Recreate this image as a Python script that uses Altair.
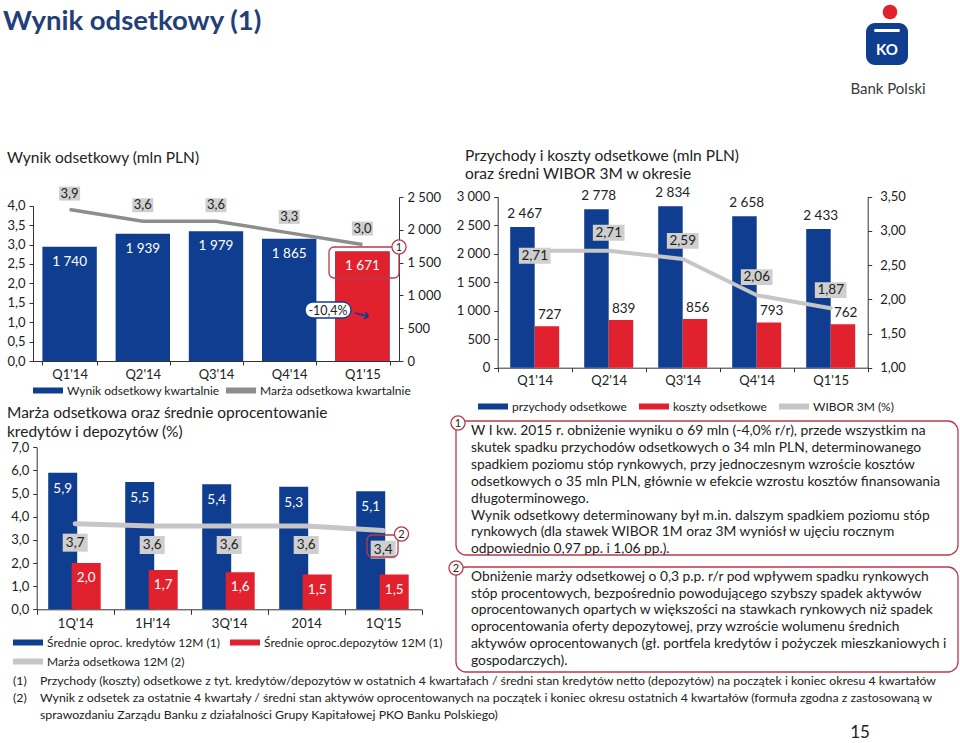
import altair as alt
import pandas as pd

# ------------------------------------------------------------------ data
kwartaly = ["Q1'14", "Q2'14", "Q3'14", "Q4'14", "Q1'15"]
wynik_kw = [1740, 1939, 1979, 1865, 1671]
marza_kw = [3.9, 3.6, 3.6, 3.3, 3.0]

okresy = ["1Q'14", "1H'14", "3Q'14", "2014", "1Q'15"]
opr_kredytow = [5.9, 5.5, 5.4, 5.3, 5.1]
opr_depozytow = [2.0, 1.7, 1.6, 1.5, 1.5]
marza_12m = [3.7, 3.6, 3.6, 3.6, 3.4]

przychody = [2467, 2778, 2834, 2658, 2433]
koszty = [727, 839, 856, 793, 762]
wibor_3m = [2.71, 2.71, 2.59, 2.06, 1.87]

S1 = ["Wynik odsetkowy kwartalnie", "Marża odsetkowa kwartalnie"]
S2 = ["Średnie oproc. kredytów 12M (1)", "Średnie oproc.depozytów 12M (1)", "Marża odsetkowa 12M (2)"]
S3 = ["przychody odsetkowe", "koszty odsetkowe", "WIBOR 3M (%)"]

TITLE = "Wynik odsetkowy (1)"
T1 = "Wynik odsetkowy (mln PLN)"
T2 = ["Marża odsetkowa oraz średnie oprocentowanie", "kredytów i depozytów (%)"]
T3 = ["Przychody i koszty odsetkowe (mln PLN)", "oraz średni WIBOR 3M w okresie"]

PAR1 = [
    "W I kw. 2015 r. obniżenie wyniku o 69 mln (-4,0% r/r), przede wszystkim na",
    "skutek spadku przychodów odsetkowych o 34 mln PLN, determinowanego",
    "spadkiem poziomu stóp rynkowych, przy jednoczesnym wzroście kosztów",
    "odsetkowych o 35 mln PLN, głównie w efekcie wzrostu kosztów finansowania",
    "długoterminowego.",
    "Wynik odsetkowy determinowany był m.in. dalszym spadkiem poziomu stóp",
    "rynkowych (dla stawek WIBOR 1M oraz 3M wyniósł w ujęciu rocznym",
    "odpowiednio 0,97 pp. i 1,06 pp.).",
]
PAR2 = [
    "Obniżenie marży odsetkowej o 0,3 p.p. r/r pod wpływem spadku rynkowych",
    "stóp procentowych, bezpośrednio powodującego szybszy spadek aktywów",
    "oprocentowanych opartych w większości na stawkach rynkowych niż spadek",
    "oprocentowania oferty depozytowej, przy wzroście wolumenu średnich",
    "aktywów oprocentowanych (gł. portfela kredytów i pożyczek mieszkaniowych i",
    "gospodarczych).",
]
FOOT_NUM = ["(1)", "(2)"]
FOOT = [
    "Przychody (koszty) odsetkowe z tyt. kredytów/depozytów w ostatnich 4 kwartałach / średni stan kredytów netto (depozytów) na początek i koniec okresu 4 kwartałów",
    "Wynik z odsetek za ostatnie 4 kwartały / średni stan aktywów oprocentowanych na początek i koniec okresu ostatnich 4 kwartałów (formuła zgodna z zastosowaną w",
    "sprawozdaniu Zarządu Banku z działalności Grupy Kapitałowej  PKO Banku Polskiego)",
]
PAGE = "15"
CHANGE = "-10,4%"

# ------------------------------------------------------------------ style / layout
W, H = 960, 743
FONT = "Lato"
NAVY = "#0f3d8f"
RED = "#e2212e"
GRAY1 = "#8d8d8d"
LGRAY = "#c6c6c6"
BOXGRAY = "#cfcfcf"
DRED = "#b73a4c"
TBLUE = "#233e78"
TXT = "#222222"

DEC1 = "replace(format(datum.value, '.1f'), '.', ',')"
DEC2 = "replace(format(datum.value, '.2f'), '.', ',')"
THS = "replace(format(datum.value, ','), ',', ' ')"

AX = dict(title=None, grid=False, domainColor="#333333", tickColor="#333333",
          labelColor=TXT, labelFont=FONT, labelFontSize=13, domainWidth=1, tickWidth=1)


def pl(v, d):
    return f"{v:.{d}f}".replace(".", ",")


def th(v):
    return f"{v:,}".replace(",", " ")


def box_path(h):
    return f"M-1,-{h}H1V{h}H-1Z"


# legend swatch: 30 x 6 px drawn around a 12 px layout symbol
SWATCH = "M-2.5,-0.5H2.5V0.5H-2.5Z"


def legend(swatch_left, center_y, cols, colpad):
    return alt.Legend(orient="none", legendX=swatch_left + 9, legendY=center_y - 6.5,
                      direction="horizontal", columns=cols,
                      symbolType=SWATCH, symbolSize=144, symbolStrokeWidth=0, symbolOpacity=1,
                      labelFont=FONT, labelFontSize=12, labelColor=TXT, title=None, padding=0,
                      columnPadding=colpad, rowPadding=7, labelOffset=13, labelLimit=0)


layers = []

# ------------------------------------------------------------------ chart 1
c1x = alt.Scale(domain=kwartaly, range=[33, 399], paddingInner=0.257, paddingOuter=0.1285)
c1yl = alt.Scale(domain=[0, 4], range=[361, 205.7], nice=False)
c1yr = alt.Scale(domain=[0, 2500], range=[361, 197], nice=False)

df1 = pd.DataFrame({"kw": kwartaly, "wynik": wynik_kw, "marza": marza_kw})
df1["wynik_t"] = [th(v) for v in wynik_kw]
df1["marza_t"] = [pl(v, 1) for v in marza_kw]
df1["seria"] = S1[0]


def x1(axis=None):
    return alt.X("kw:N", scale=c1x, axis=axis, title=None)


ax_x1 = alt.Axis(orient="bottom", offset=361 - H, labelAngle=0, tickBand="extent", tickSize=4,
                 labelPadding=3, **AX)
ax_y1l = alt.Axis(orient="left", offset=-33, values=[i * 0.5 for i in range(9)], labelExpr=DEC1,
                  tickSize=4, labelPadding=4, **AX)
ax_y1r = alt.Axis(orient="right", offset=399 - W, values=[i * 500 for i in range(6)], labelExpr=THS,
                  tickSize=4, labelPadding=4, **AX)

layers.append(alt.Chart(df1).mark_bar().encode(
    x=x1(ax_x1), y=alt.Y("wynik:Q", scale=c1yr, axis=ax_y1r),
    color=alt.Color("seria:N", scale=alt.Scale(domain=S1, range=[NAVY, GRAY1]),
                    legend=legend(33, 391, 2, 6))))
layers.append(alt.Chart(df1).transform_filter(alt.datum.kw == kwartaly[-1]).mark_bar(color=RED).encode(
    x=x1(), y=alt.Y("wynik:Q", scale=c1yr, axis=None)))
layers.append(alt.Chart(df1).mark_text(color="white", font=FONT, fontSize=13.5, dy=15).encode(
    x=x1(), y=alt.Y("wynik:Q", scale=c1yr, axis=None), text="wynik_t:N"))
layers.append(alt.Chart(df1).mark_line(color=GRAY1, strokeWidth=3.5).encode(
    x=x1(), y=alt.Y("marza:Q", scale=c1yl, axis=ax_y1l)))
layers.append(alt.Chart(df1).mark_point(shape=box_path(0.667), size=441, filled=True, color=BOXGRAY,
                                        opacity=1, yOffset=-16).encode(
    x=x1(), y=alt.Y("marza:Q", scale=c1yl, axis=None)))
layers.append(alt.Chart(df1).mark_text(color=TXT, font=FONT, fontSize=13, dy=-16).encode(
    x=x1(), y=alt.Y("marza:Q", scale=c1yl, axis=None), text="marza_t:N"))

# ------------------------------------------------------------------ chart 2
c2x = alt.Scale(domain=okresy, range=[36.7, 421.7], paddingInner=0, paddingOuter=0)
c2y = alt.Scale(domain=[0, 7], range=[609.3, 447.3], nice=False)

df2 = pd.DataFrame({"ok": okresy, "kred": opr_kredytow, "dep": opr_depozytow, "marza": marza_12m})
df2["kred_t"] = [pl(v, 1) for v in opr_kredytow]
df2["dep_t"] = [pl(v, 1) for v in opr_depozytow]
df2["marza_t"] = [pl(v, 1) for v in marza_12m]
df2["seria"] = S2[0]


def x2(axis=None):
    return alt.X("ok:N", scale=c2x, axis=axis, title=None)


def y2(f, axis=None):
    return alt.Y(f"{f}:Q", scale=c2y, axis=axis)


ax_x2 = alt.Axis(orient="bottom", offset=609.3 - H, labelAngle=0, tickBand="extent", tickSize=5,
                 labelPadding=3, **AX)
ax_y2 = alt.Axis(orient="left", offset=-36.7, values=list(range(8)), labelExpr=DEC1, tickSize=4,
                 labelPadding=4, **AX)

layers.append(alt.Chart(df2).mark_bar(width=29, xOffset=-12.5).encode(
    x=x2(ax_x2), y=y2("kred", ax_y2),
    color=alt.Color("seria:N", scale=alt.Scale(domain=S2, range=[NAVY, RED, LGRAY]),
                    legend=legend(13, 643, 2, 9))))
layers.append(alt.Chart(df2).mark_bar(width=29, xOffset=11, color=RED).encode(x=x2(), y=y2("dep")))
layers.append(alt.Chart(df2).mark_text(color="white", font=FONT, fontSize=13.5, dy=16, dx=-12.5).encode(
    x=x2(), y=y2("kred"), text="kred_t:N"))
layers.append(alt.Chart(df2).mark_text(color="white", font=FONT, fontSize=13.5, dy=15, dx=11).encode(
    x=x2(), y=y2("dep"), text="dep_t:N"))
layers.append(alt.Chart(df2).mark_line(color=LGRAY, strokeWidth=5, strokeCap="round").encode(
    x=x2(), y=y2("marza")))
layers.append(alt.Chart(df2).mark_point(shape=box_path(0.72), size=625, filled=True, color=BOXGRAY,
                                        opacity=1, yOffset=19).encode(x=x2(), y=y2("marza")))
layers.append(alt.Chart(df2).mark_text(color=TXT, font=FONT, fontSize=13.5, dy=19).encode(
    x=x2(), y=y2("marza"), text="marza_t:N"))

# ------------------------------------------------------------------ chart 3
c3x = alt.Scale(domain=kwartaly, range=[497.7, 867.7], paddingInner=0, paddingOuter=0)
c3yl = alt.Scale(domain=[0, 3000], range=[367.7, 196.7], nice=False)
c3yr = alt.Scale(domain=[1.0, 3.5], range=[367.7, 196.7], nice=False, zero=False)

df3 = pd.DataFrame({"kw": kwartaly, "prz": przychody, "kos": koszty, "wib": wibor_3m})
df3["prz_t"] = [th(v) for v in przychody]
df3["kos_t"] = [th(v) for v in koszty]
df3["wib_t"] = [pl(v, 2) for v in wibor_3m]
df3["seria"] = S3[0]


def x3(axis=None):
    return alt.X("kw:N", scale=c3x, axis=axis, title=None)


ax_x3 = alt.Axis(orient="bottom", offset=367.7 - H, labelAngle=0, tickBand="extent", tickSize=4,
                 labelPadding=3, **AX)
ax_y3l = alt.Axis(orient="left", offset=-497.7, values=[i * 500 for i in range(7)], labelExpr=THS,
                  tickSize=4, labelPadding=4, **AX)
ax_y3r = alt.Axis(orient="right", offset=867.7 - W, values=[1 + i * 0.5 for i in range(6)],
                  labelExpr=DEC2, tickSize=4, labelPadding=8, **AX)

layers.append(alt.Chart(df3).mark_bar(width=24.5, xOffset=-12.25).encode(
    x=x3(ax_x3), y=alt.Y("prz:Q", scale=c3yl, axis=ax_y3l),
    color=alt.Color("seria:N", scale=alt.Scale(domain=S3, range=[NAVY, RED, LGRAY]),
                    legend=legend(478, 407, 3, 11))))
layers.append(alt.Chart(df3).mark_bar(width=24.5, xOffset=12.25, color=RED).encode(
    x=x3(), y=alt.Y("kos:Q", scale=c3yl, axis=None)))
layers.append(alt.Chart(df3).mark_text(color=TXT, font=FONT, fontSize=13.5, dy=-13, dx=-10).encode(
    x=x3(), y=alt.Y("prz:Q", scale=c3yl, axis=None), text="prz_t:N"))
layers.append(alt.Chart(df3).mark_text(color=TXT, font=FONT, fontSize=13.5, dy=-11, dx=15).encode(
    x=x3(), y=alt.Y("kos:Q", scale=c3yl, axis=None), text="kos_t:N"))
layers.append(alt.Chart(df3).mark_line(color=LGRAY, strokeWidth=4, strokeCap="round").encode(
    x=x3(), y=alt.Y("wib:Q", scale=c3yr, axis=ax_y3r)))
first = alt.datum.kw == kwartaly[0]
for flt, off in ((first, 5), (~first, -18)):
    layers.append(alt.Chart(df3).transform_filter(flt).mark_point(
        shape=box_path(0.5), size=1005, filled=True, color=BOXGRAY, opacity=1, yOffset=off).encode(
        x=x3(), y=alt.Y("wib:Q", scale=c3yr, axis=None)))
    layers.append(alt.Chart(df3).transform_filter(flt).mark_text(
        color=TXT, font=FONT, fontSize=13.5, dy=off).encode(
        x=x3(), y=alt.Y("wib:Q", scale=c3yr, axis=None), text="wib_t:N"))

# ------------------------------------------------------------------ annotations (pixel space)
PX = dict(scale=None, axis=None)


def texts(rows, **mk):
    df = pd.DataFrame(rows, columns=["x", "y", "t"])
    base = dict(font=FONT, baseline="middle", align="left", color=TXT)
    base.update(mk)
    return alt.Chart(df).mark_text(**base).encode(
        x=alt.X("x:Q", **PX), y=alt.Y("y:Q", **PX), text="t:N")


def rects(rows, **mk):
    df = pd.DataFrame(rows, columns=["x", "x2", "y", "y2"])
    return alt.Chart(df).mark_rect(**mk).encode(
        x=alt.X("x:Q", **PX), x2="x2:Q", y=alt.Y("y:Q", **PX), y2="y2:Q")


def points(rows, **mk):
    df = pd.DataFrame(rows, columns=["x", "y"])
    return alt.Chart(df).mark_point(**mk).encode(x=alt.X("x:Q", **PX), y=alt.Y("y:Q", **PX))


# outlined highlight boxes
layers.append(rects([(329, 399, 247, 278), (367, 398, 535, 557)],
                    cornerRadius=5, fillOpacity=0, stroke=DRED, strokeWidth=1.3))
layers.append(rects([(456, 958, 421, 555), (456, 958, 567, 672)],
                    cornerRadius=10, fillOpacity=0, stroke=DRED, strokeWidth=1.3))
# -10,4% pill and arrow
layers.append(rects([(305, 351, 302, 318)], cornerRadius=8, fill="white", stroke=NAVY, strokeWidth=1.3))
layers.append(texts([(328, 310.5, CHANGE)], align="center", fontSize=12.5))
layers.append(texts([(361, 315, "→")], align="center", font="DejaVu Sans", fontSize=20, color=NAVY,
                    angle=14))
# numbered circles
layers.append(points([(399, 247), (401.5, 534), (458, 423), (456, 568)], shape="circle", size=200,
                     filled=True, fill="white", stroke=DRED, strokeWidth=1.3, opacity=1))
layers.append(texts([(399, 247.5, "1"), (401.5, 534.5, "2"), (458, 423.5, "1"), (456, 568.5, "2")],
                    align="center", fontSize=11))

# titles
layers.append(texts([(3, 22, TITLE)], fontSize=27.5, fontWeight="bold", color=TBLUE))
layers.append(texts([(7, 158, T1), (7, 413, T2[0]), (7, 432, T2[1]), (465, 156, T3[0]), (465, 174, T3[1])],
                    fontSize=15.5))
# paragraphs
layers.append(texts([(471, 431 + 16.9 * i, s) for i, s in enumerate(PAR1)] +
                    [(471, 577 + 16.7 * i, s) for i, s in enumerate(PAR2)], fontSize=13.8))
# footnotes
layers.append(texts([(13, 681, FOOT_NUM[0]), (13, 698, FOOT_NUM[1])] +
                    [(40, 681, FOOT[0]), (40, 698, FOOT[1]), (40, 715, FOOT[2])], fontSize=12.3))
layers.append(texts([(860, 733, PAGE)], align="center", fontSize=17))

# logo
layers.append(rects([(866, 908, 23, 65)], cornerRadius=9, fill=NAVY))
layers.append(rects([(874, 900, 29, 32)], cornerRadius=1.5, fill="white"))
layers.append(texts([(887, 50, "KO")], align="center", fontSize=15, fontWeight="bold", color="white"))
layers.append(points([(890, 12)], shape="circle", size=213, filled=True, color=RED, opacity=1))
layers.append(texts([(888, 89, "Bank Polski")], align="center", fontSize=15, color="#3a3a3a"))

chart = alt.layer(*layers).resolve_scale(
    x="independent", y="independent", color="independent"
).properties(
    width=W, height=H, padding=0, autosize=alt.AutoSizeParams(type="none"), background="white"
).configure_view(stroke=None)

chart.save("out.html", embed_options={"renderer": "svg", "actions": False})
